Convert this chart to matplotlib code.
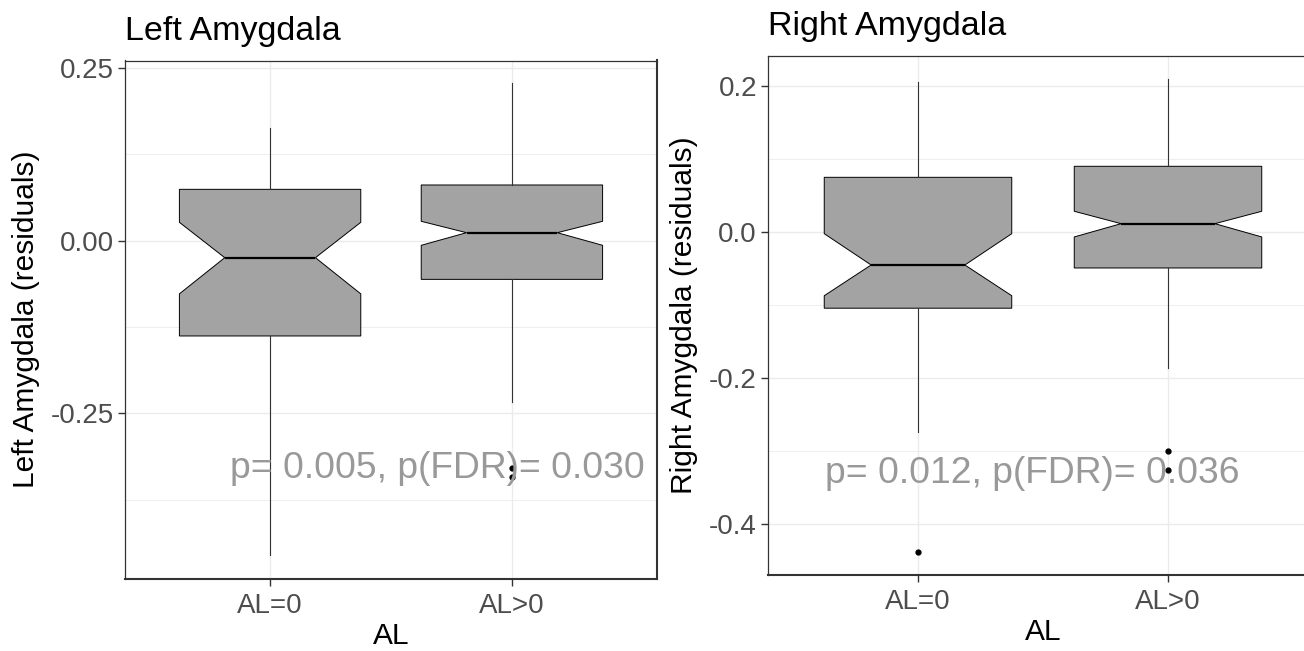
import matplotlib
matplotlib.use("Agg")
import matplotlib.pyplot as plt

plt.rcParams['font.family'] = ['Liberation Sans', 'DejaVu Sans']

groups = ["AL=0", "AL>0"]

# left amygdala: whislo, q1, cilo, med, cihi, q3, whishi
left_lo = [-0.455, -0.233]
left_q1 = [-0.138, -0.056]
left_cilo = [-0.077, -0.0067]
left_med = [-0.0246, 0.0116]
left_cihi = [0.0266, 0.0281]
left_q3 = [0.0744, 0.0807]
left_hi = [0.163, 0.228]
left_out = [[], [-0.3296, -0.3417]]

right_lo = [-0.273, -0.186]
right_q1 = [-0.104, -0.0489]
right_cilo = [-0.0869, -0.0064]
right_med = [-0.0448, 0.0118]
right_cihi = [-0.0019, 0.0288]
right_q3 = [0.0753, 0.0904]
right_hi = [0.206, 0.210]
right_out = [[-0.438], [-0.299, -0.326]]

left_text = "p= 0.005, p(FDR)= 0.030"
right_text = "p= 0.012, p(FDR)= 0.036"

W, H = 1304, 651
fig = plt.figure(figsize=(W / 100, H / 100), dpi=100)


def make_stats(lo, q1, cilo, med, cihi, q3, hi, out):
    stats = []
    for i in range(len(lo)):
        stats.append(dict(whislo=lo[i], q1=q1[i], cilo=cilo[i], med=med[i],
                          cihi=cihi[i], q3=q3[i], whishi=hi[i], fliers=out[i]))
    return stats


def panel(rect, stats, ylim, yticks, yticklabels, minor, title, ylabel, txt, txt_x):
    ax = fig.add_axes(rect)
    ax.bxp(stats, positions=[1, 2], widths=0.75, shownotches=True, showcaps=False,
           patch_artist=True,
           boxprops=dict(facecolor='#a3a3a3', edgecolor='black', linewidth=0.7),
           medianprops=dict(color='black', linewidth=1.6),
           whiskerprops=dict(color='#333333', linewidth=0.8),
           flierprops=dict(marker='o', markersize=3.5, markerfacecolor='black',
                           markeredgecolor='black'))
    ax.set_xlim(0.4, 2.6)
    ax.set_ylim(*ylim)
    ax.set_xticks([1, 2])
    ax.set_xticklabels(groups)
    ax.set_yticks(yticks)
    ax.set_yticklabels(yticklabels)
    ax.set_yticks(minor, minor=True)
    ax.tick_params(axis='y', which='minor', length=0)
    ax.grid(True, which='major', color='#ebebeb', linewidth=1.0, zorder=0)
    ax.grid(True, which='minor', axis='y', color='#ebebeb', linewidth=0.6, zorder=0)
    ax.set_axisbelow(True)
    ax.tick_params(axis='both', which='major', length=5, width=1.0, color='#333333',
                   labelsize=20, labelcolor='#4d4d4d')
    ax.tick_params(axis='x', pad=5)
    ax.tick_params(axis='y', pad=3)
    for side in ['left', 'top']:
        ax.spines[side].set_linewidth(0.9)
        ax.spines[side].set_color('#333333')
    for side in ['right', 'bottom']:
        ax.spines[side].set_linewidth(1.5)
        ax.spines[side].set_color('#333333')
    ax.set_xlabel("AL", fontsize=21.5, color='black', labelpad=2.5)
    ax.set_ylabel(ylabel, fontsize=21.5, color='black', labelpad=8)
    ax.set_title(title, loc='left', fontsize=24.5, color='black', pad=15)
    ax.text(txt_x, -0.33, txt, fontsize=26.8, color='#999999', ha='center', va='center')
    return ax


left_stats = make_stats(left_lo, left_q1, left_cilo, left_med, left_cihi, left_q3,
                        left_hi, left_out)
right_stats = make_stats(right_lo, right_q1, right_cilo, right_med, right_cihi,
                         right_q3, right_hi, right_out)

panel([125 / W, 1 - 579 / H, 532 / W, 518.5 / H], left_stats, (-0.490, 0.261),
      [-0.25, 0.0, 0.25], ["-0.25", "0.00", "0.25"], [-0.375, -0.125, 0.125],
      "Left Amygdala", "Left Amygdala (residuals)", left_text, 1.69)

panel([768 / W, 1 - 575 / H, 550 / W, 519 / H], right_stats, (-0.4695, 0.2415),
      [-0.4, -0.2, 0.0, 0.2], ["-0.4", "-0.2", "0.0", "0.2"], [-0.3, -0.1, 0.1],
      "Right Amygdala", "Right Amygdala (residuals)", right_text, 1.456)

fig.savefig("out.png", dpi=100)
